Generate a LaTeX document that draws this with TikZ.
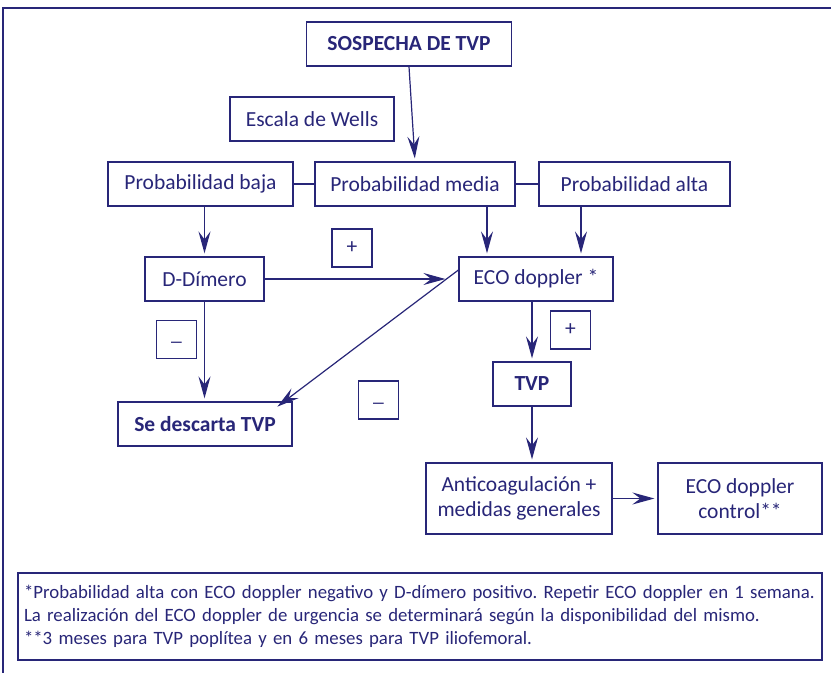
\documentclass[tikz,border=0pt]{standalone}
\usepackage{fontspec}
\setmainfont{Carlito}
\usepackage{xcolor}
\definecolor{tvpnavy}{RGB}{40,38,120}
\usepackage{tikz}
\usetikzlibrary{arrows.meta,positioning,calc}

\begin{document}
\begin{tikzpicture}[
  x=1pt, y=-1pt,
  flowbox/.style={
    rectangle, draw=tvpnavy, line width=1.2pt,
    fill=white, text=tvpnavy,
    font=\fontsize{21.5}{25}\selectfont,
    align=center, inner sep=0pt
  },
  boldbox/.style={flowbox, font=\fontsize{21.5}{25}\selectfont\bfseries},
  signbox/.style={flowbox, minimum width=40pt, minimum height=38pt},
  conn/.style={-{Stealth[length=22pt,width=12pt,inset=8pt]}, line width=1.2pt,
    draw=tvpnavy, shorten >=3pt},
  link/.style={line width=1.2pt, draw=tvpnavy}
]
\useasboundingbox (0,0) rectangle (831,673);
\fill[white] (0,0) rectangle (831,673);
\draw[tvpnavy, line width=2.4pt] (831,8) -- (3,8) -- (3,673);

\node[boldbox, minimum width=205pt, minimum height=44pt] (sosp)  at (409,44)  {SOSPECHA DE TVP};
\node[flowbox, minimum width=164pt, minimum height=44pt] (wells) at (312,119) {Escala de Wells};

\node[flowbox, minimum width=185pt, minimum height=44pt] (pbaja)  at (200.5,184) {Probabilidad baja};
\node[flowbox, minimum width=200pt, minimum height=44pt] (pmedia) at (415,184)   {Probabilidad media};
\node[flowbox, minimum width=191pt, minimum height=44pt] (palta)  at (634.5,184) {Probabilidad alta};

\node[flowbox, minimum width=119pt, minimum height=44pt] (ddim) at (204.5,279) {D-Dímero};
\node[flowbox, minimum width=154pt, minimum height=44pt] (eco)  at (536,279)   {ECO doppler *};
\node[boldbox, minimum width=174pt, minimum height=44pt] (desc) at (205,424)   {Se descarta TVP};
\node[boldbox, minimum width=78pt,  minimum height=44pt] (tvp)  at (532,384)   {TVP};

\node[flowbox, minimum width=186pt, minimum height=71pt] (anti) at (519,498.5) {Anticoagulación +\\medidas generales};
\node[flowbox, minimum width=164pt, minimum height=71pt] (ctrl) at (740,498.5) {ECO doppler\\control**};

\node[signbox] (pos1) at (352,248) {+};
\node[signbox] (neg1) at (176.5,339.5) {\raisebox{-5pt}{\_}};
\node[signbox] (neg2) at (378.5,400) {\raisebox{-5pt}{\_}};
\node[signbox] (pos2) at (570.5,330) {+};

\draw[conn] (sosp.south) -- (pmedia.north);
\draw[link] (pbaja) -- (pmedia);
\draw[link] (pmedia) -- (palta);
\draw[conn] (pbaja.south -| ddim) -- (ddim.north);
\draw[conn] (pmedia.south -| 487,0) -- (eco.north -| 487,0);
\draw[conn] (palta.south -| 581,0) -- (eco.north -| 581,0);
\draw[conn] (ddim.east) -- ([xshift=-10pt]eco.west);
\draw[conn] (ddim.south) -- (desc.north -| ddim);
\draw[conn] ([yshift=9pt]eco.west) -- ([xshift=70pt,yshift=-7pt]desc.north);
\draw[conn] (eco.south -| tvp) -- (tvp.north);
\draw[conn] (tvp.south) -- (anti.north -| tvp);
\draw[conn] (anti.east) -- (ctrl.west);

\node[flowbox, minimum width=804pt, minimum height=87pt, align=left, inner xsep=6pt,
      text width=792pt, font=\fontsize{18.8}{23}\selectfont\frenchspacing] (note) at (420,616.5)
  {\mbox{*Probabilidad alta con ECO doppler negativo y D-dímero positivo. Repetir ECO doppler en 1 semana.}\\{}%
   \mbox{La realización del ECO doppler de urgencia se determinará según la disponibilidad del mismo.}\\{}%
   \mbox{**3 meses para TVP poplítea y en 6 meses para TVP iliofemoral.}};
\end{tikzpicture}
\end{document}
